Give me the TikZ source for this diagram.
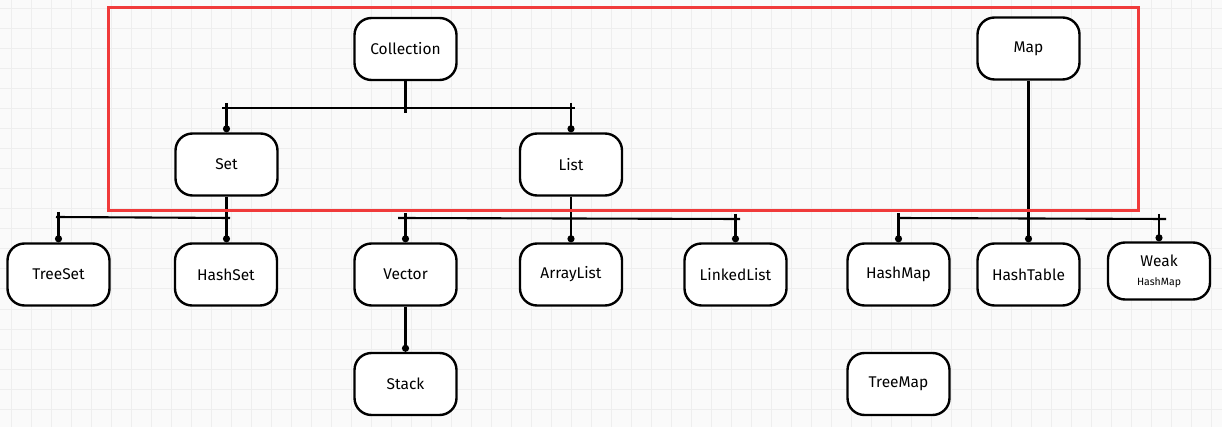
\documentclass[tikz,border=0pt]{standalone}
\usepackage{fontspec}
\setmainfont{Fira Sans}
\usetikzlibrary{arrows.meta}
\definecolor{bg}{HTML}{FAFAFA}
\definecolor{gridc}{HTML}{EEEEEE}
\definecolor{redbox}{HTML}{F03A3A}
\tikzset{
  box/.style={draw=black, line width=2.4pt, rounded corners=17pt, fill=white,
    minimum width=102pt, minimum height=62pt, inner sep=0pt, align=center,
    font=\fontsize{15.5}{17}\selectfont},
  conn/.style={draw=black, line width=2.3pt},
  arr/.style={conn, -{Circle[length=7pt]}},
  bus/.style={draw=black, line width=2.1pt},
}
\begin{document}
\begin{tikzpicture}[x=1pt,y=-1pt]
\useasboundingbox (0,0) rectangle (1222,427);
\fill[bg] (0,0) rectangle (1222,427);
\foreach \gx in {11,31,...,1222} \draw[gridc, line width=1pt] (\gx,0) -- (\gx,427);
\foreach \gy in {9,29,...,427} \draw[gridc, line width=1pt] (0,\gy) -- (1222,\gy);

% nodes
\node[box] (coll) at (405.5,49) {Collection};
\node[box] (map) at (1028.5,48.5) {Map};
\node[box] (set) at (226.5,164.5) {Set};
\node[box] (list) at (571,164.5) {List};
\node[box] (treeset) at (58.5,274.5) {TreeSet};
\node[box] (hashset) at (226,274.5) {HashSet};
\node[box] (vector) at (405.5,274.5) {Vector};
\node[box] (arraylist) at (571,274.5) {ArrayList};
\node[box] (linkedlist) at (735.5,274.5) {LinkedList};
\node[box] (hashmap) at (898.5,274.5) {HashMap};
\node[box] (hashtable) at (1028.5,274.5) {HashTable};
\node[box, minimum height=57pt] (weak) at (1159,271) {Weak\\[2pt]{\fontsize{10.5}{12}\selectfont HashMap}};
\node[box] (stack) at (405.5,384) {Stack};
\node[box] (treemap) at (898.5,384) {TreeMap};

% bus coordinates
\coordinate (cbL) at (222,108);
\coordinate (cbR) at (575,108);
\coordinate (sbL) at (56,217);
\coordinate (sbR) at (230,218);
\coordinate (lbL) at (398,218);
\coordinate (lbR) at (740,219);
\coordinate (mbL) at (897,218);
\coordinate (mbR) at (1166,219);

% Collection -> Set, List
\draw[bus] (cbL) -- (cbR);
\draw[conn] (coll.south) -- ([yshift=-5pt]coll.south |- cbL);
\draw[arr] ([yshift=5pt]set.north |- cbL) -- (set.north);
\draw[arr] ([yshift=5pt]list.north |- cbR) -- (list.north);

% Set -> TreeSet, HashSet
\draw[bus] (sbL) -- (sbR);
\draw[arr] (set.south) -- (set.south |- hashset.north);
\draw[arr] ([yshift=5pt]treeset.north |- sbL) -- (treeset.north);

% List -> Vector, ArrayList, LinkedList
\draw[bus] (lbL) -- (lbR);
\draw[arr] (list.south) -- (arraylist.north);
\draw[arr] ([yshift=5pt]vector.north |- lbL) -- (vector.north);
\draw[arr] ([yshift=5pt]linkedlist.north |- lbR) -- (linkedlist.north);

% Map -> HashMap, HashTable, Weak
\draw[bus] (mbL) -- (mbR);
\draw[arr] (map.south) -- (hashtable.north);
\draw[arr] ([yshift=5pt]hashmap.north |- mbL) -- (hashmap.north);
\draw[arr] ([yshift=5pt]weak.north |- mbR) -- (weak.north);

% Vector -> Stack
\draw[arr] (vector.south) -- (stack.north);

% red frame
\draw[redbox, line width=3pt] (108,8) rectangle (1138,211);
\end{tikzpicture}
\end{document}
